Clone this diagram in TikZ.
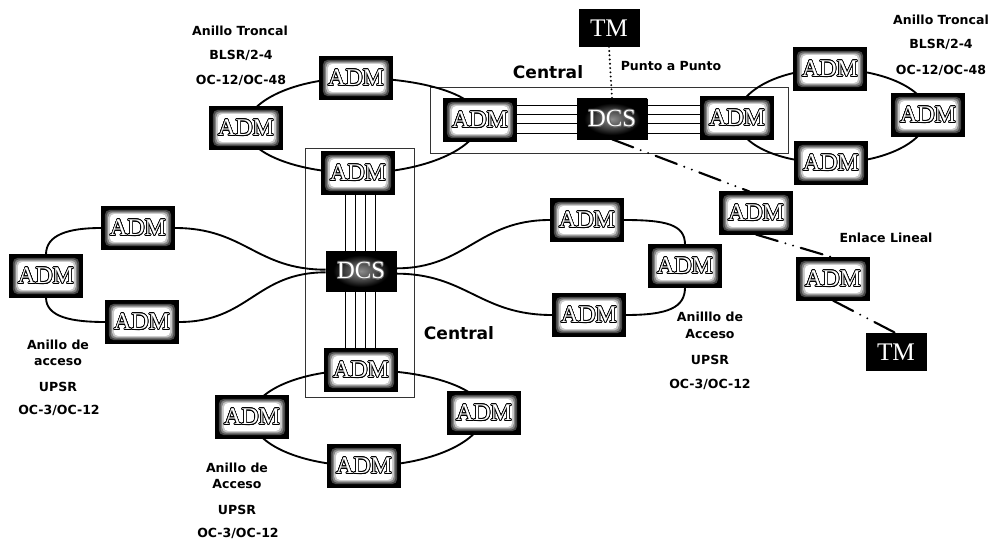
\documentclass[tikz,border=0pt]{standalone}
\usepackage{fontspec}
\setmainfont{DejaVu Sans}
\newfontfamily\boxfont{Liberation Serif}
\usepackage[copies]{contour}
\contourlength{0.55pt}
\usetikzlibrary{backgrounds}
\pgfdeclareradialshading{dcsglow}{\pgfpointorigin}{color(0bp)=(black!45); color(12bp)=(black!75); color(20bp)=(black); color(50bp)=(black)}
\newcommand{\glowstep}[3]{%
  \fill[#3, rounded corners=3.5pt] ([shift={(#1,#2)}]path picture bounding box.south west) rectangle ([shift={(-#1,-#2)}]path picture bounding box.north east);}
\begin{document}
\begin{tikzpicture}[x=0.75pt,y=-0.75pt,
  adm/.style={fill=black, draw=black, line width=0.8pt, minimum width=54.75pt, minimum height=31.5pt, inner sep=0pt, text=white, font=\boxfont\fontsize{18}{18}\selectfont,
    path picture={\glowstep{2.6pt}{2.2pt}{black!72}\glowstep{3.8pt}{3.2pt}{black!48}\glowstep{5pt}{4.2pt}{black!22}\glowstep{6.2pt}{5.2pt}{white}}},
  dcsbox/.style={shading=dcsglow, draw=black, minimum width=52.5pt, minimum height=30pt, inner sep=0pt, text=white, font=\boxfont\fontsize{18.5}{18.5}\selectfont},
  tmbox/.style={fill=black, draw=black, minimum width=45pt, minimum height=27.75pt, inner sep=0pt, text=white, font=\boxfont\fontsize{19}{19}\selectfont},
  lbl/.style={inner sep=0pt, font=\bfseries\fontsize{9.4}{11}\selectfont},
  biglbl/.style={inner sep=0pt, font=\bfseries\fontsize{12.8}{14}\selectfont},
  ring/.style={line width=1.4pt},
  thinline/.style={line width=0.6pt},
  frame/.style={line width=0.7pt, draw=black!80},
  dotline/.style={line width=1.6pt, line cap=round, dash pattern=on 0pt off 3.2pt},
  ddline/.style={line width=1.6pt, line cap=round, dash pattern=on 17pt off 6pt on 0pt off 6pt on 0pt off 6pt}
]
\useasboundingbox (0,0) rectangle (993,542);

% ---- nodes ----
% top-left trunk ring
\node[adm] (tla) at (356,78) {\contour{black}{ADM}};
\node[adm] (tll) at (246,128) {\contour{black}{ADM}};
\node[adm] (vtop) at (358,173) {\contour{black}{ADM}};
% horizontal central office
\node[adm] (hleft) at (480,120) {\contour{black}{ADM}};
\node[dcsbox] (hdcs) at (612,119) {\contour{black!60}{DCS}};
\node[adm] (hright) at (737,118) {\contour{black}{ADM}};
\node[tmbox] (tm1) at (609,28) {TM};
% right trunk ring
\node[adm] (rtt) at (830,69) {\contour{black}{ADM}};
\node[adm] (rtr) at (928,115) {\contour{black}{ADM}};
\node[adm] (rtb) at (831,163) {\contour{black}{ADM}};
% vertical central office
\node[dcsbox] (vdcs) at (361,271) {\contour{black!60}{DCS}};
\node[adm] (vbot) at (361,370) {\contour{black}{ADM}};
% left access ring
\node[adm] (lat) at (138,228) {\contour{black}{ADM}};
\node[adm] (lal) at (46,276) {\contour{black}{ADM}};
\node[adm] (lab) at (142,322) {\contour{black}{ADM}};
% right access ring
\node[adm] (rat) at (587,220) {\contour{black}{ADM}};
\node[adm] (rar) at (685,266) {\contour{black}{ADM}};
\node[adm] (rab) at (589,315) {\contour{black}{ADM}};
% bottom access ring
\node[adm] (bl) at (252,417) {\contour{black}{ADM}};
\node[adm] (br) at (484,413) {\contour{black}{ADM}};
\node[adm] (bb) at (364,466) {\contour{black}{ADM}};
% linear link
\node[adm] (lin1) at (756,213) {\contour{black}{ADM}};
\node[adm] (lin2) at (833,279) {\contour{black}{ADM}};
\node[tmbox] (tm2) at (896,352) {TM};

% ---- labels ----
\node[lbl] (l1a) at (240,31) {Anillo Troncal};
\node[lbl] (l1b) at (241,55) {BLSR/2-4};
\node[lbl] (l1c) at (241,80) {OC-12/OC-48};
\node[lbl] (l2a) at (941,20) {Anillo Troncal};
\node[lbl] (l2b) at (941,44) {BLSR/2-4};
\node[lbl] (l2c) at (941,70) {OC-12/OC-48};
\node[lbl] (pp) at (671,66) {Punto a Punto};
\node[lbl] (el) at (886,238) {Enlace Lineal};
\node[biglbl] (c1) at (548,72) {Central};
\node[biglbl] (c2) at (459,333) {Central};
\node[lbl] (l3a) at (58,345) {Anillo de};
\node[lbl] (l3b) at (58,362) {acceso};
\node[lbl] (l3c) at (58,387) {UPSR};
\node[lbl] (l3d) at (59,410) {OC-3/OC-12};
\node[lbl] (l4a) at (710,317) {Anilllo de};
\node[lbl] (l4b) at (710,334) {Acceso};
\node[lbl] (l4c) at (710,360) {UPSR};
\node[lbl] (l4d) at (710,384) {OC-3/OC-12};
\node[lbl] (l5a) at (237,468) {Anillo de};
\node[lbl] (l5b) at (237,484) {Acceso};
\node[lbl] (l5c) at (237,510) {UPSR};
\node[lbl] (l5d) at (238,533) {OC-3/OC-12};

% ---- connectors (behind nodes) ----
\begin{pgfonlayer}{background}
\fill[white] (0,0) rectangle (993,542);
% central office frames
\draw[frame] (430,87) rectangle (788,153);
\draw[frame] (305,148) rectangle (414,397);
% top-left trunk ring
\draw[ring] (tla.center) .. controls +(66,0) and +(0,-25) .. (hleft.center)
  .. controls +(0,28) and +(66,0) .. (vtop.center)
  .. controls +(-60,0) and +(0,25) .. (tll.center)
  .. controls +(0,-27) and +(-60,0) .. (tla.center);
% right trunk ring
\draw[ring] (hright.center) .. controls +(0,-26) and +(-52,0) .. (rtt.center)
  .. controls +(54,0) and +(0,-25) .. (rtr.center)
  .. controls +(0,26) and +(54,0) .. (rtb.center)
  .. controls +(-52,0) and +(0,26) .. (hright.center);
% bottom access ring
\draw[ring] (vbot.center) .. controls +(68,0) and +(0,-24) .. (br.center)
  .. controls +(0,28) and +(66,0) .. (bb.center)
  .. controls +(-62,0) and +(0,27) .. (bl.center)
  .. controls +(0,-26) and +(-60,0) .. (vbot.center);
% left access ring
\draw[ring] ([yshift=1pt]vdcs.west) .. controls +(-70,0) and +(70,0) .. (lat.east);
\draw[ring] (lat.west) .. controls +(-32,0) and +(0,-20) .. (lal.north);
\draw[ring] (lal.south) .. controls +(0,20) and +(-32,0) .. (lab.west);
\draw[ring] (lab.east) .. controls +(70,0) and +(-70,0) .. ([yshift=-1pt]vdcs.west);
% right access ring
\draw[ring] ([yshift=2pt]vdcs.east) .. controls +(70,0) and +(-72,0) .. (rat.west);
\draw[ring] (rat.east) .. controls +(42,0) and +(0,-20) .. (rar.north);
\draw[ring] (rar.south) .. controls +(0,20) and +(42,0) .. (rab.east);
\draw[ring] (rab.west) .. controls +(-72,0) and +(70,0) .. ([yshift=-2pt]vdcs.east);
% parallel links inside the central offices
\foreach \s in {-10.5,-3.5,3.5,10.5} {
  \draw[thinline] ([yshift=\s pt]hdcs.west) -- ([yshift=\s pt]hdcs.west -| hleft.east);
  \draw[thinline] ([yshift=\s pt]hdcs.east) -- ([yshift=\s pt]hdcs.east -| hright.west);
}
\foreach \s in {-11.5,-4,3.5,11} {
  \draw[thinline] ([xshift=\s pt]vdcs.north) -- ([xshift=\s pt]vdcs.north |- vtop.south);
  \draw[thinline] ([xshift=\s pt]vdcs.south) -- ([xshift=\s pt]vdcs.south |- vbot.north);
}
% TM to DCS (dotted)
\draw[dotline] (tm1.south) -- (hdcs.north);
% linear link (dash-dot-dot)
\draw[ddline] (hdcs.south) -- ([xshift=-5pt]lin1.north);
\draw[ddline] (lin1.south) -- (lin2.north);
\draw[ddline] (lin2.south) -- (tm2.north);
\end{pgfonlayer}
\end{tikzpicture}
\end{document}
